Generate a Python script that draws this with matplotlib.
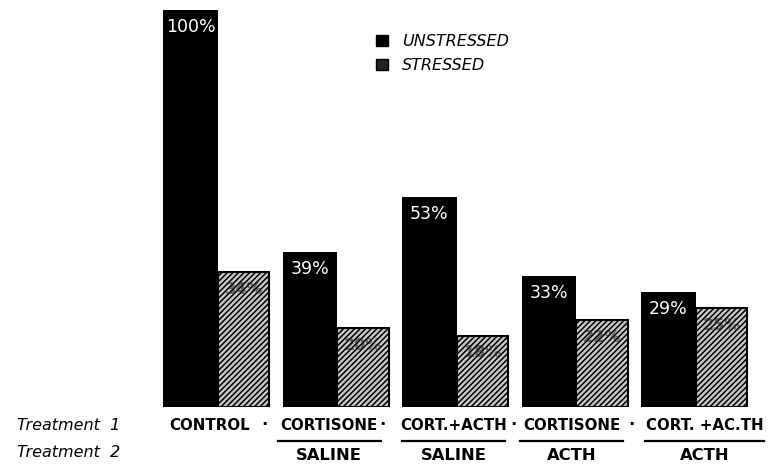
import matplotlib.pyplot as plt
import matplotlib.transforms as mtransforms
from matplotlib.lines import Line2D
from matplotlib.patches import Patch

plt.rcParams['hatch.linewidth'] = 1.1

# Data (percent)
treatment1 = ['CONTROL', 'CORTISONE', 'CORT.+ACTH', 'CORTISONE', 'CORT. +AC.TH']
treatment2 = ['', 'SALINE', 'SALINE', 'ACTH', 'ACTH']
unstressed = [100, 39, 53, 33, 29]
stressed = [34, 20, 18, 22, 25]

fig = plt.figure(figsize=(7.71, 4.65), dpi=100)
ax = fig.add_axes([150 / 771, 58 / 465, 621 / 771, 397 / 465])

x = list(range(len(treatment1)))
bw_u = 0.46
bw_s = 0.43

# Unstressed: solid black, stressed: hatched
ax.bar(x, unstressed, width=-bw_u, align='edge', color='black', edgecolor='black', linewidth=0)
ax.bar(x, stressed, width=bw_s, align='edge', color='#c8c8c8', edgecolor='black',
       hatch='//////', linewidth=1.5)

for i in x:
    ax.text(i - bw_u / 2, unstressed[i] - 2, f'{unstressed[i]}%', color='white',
            ha='center', va='top', fontsize=12.5)
    ax.text(i + bw_s / 2, stressed[i] - 2.5, f'{stressed[i]}%', color='#202020',
            ha='center', va='top', fontsize=11.5, fontweight='bold', alpha=0.6)

ax.set_xlim(-0.569, 4.628)
ax.set_ylim(0, 100)
ax.axis('off')

# Category labels under the bars
trans = mtransforms.blended_transform_factory(ax.transData, fig.transFigure)
label_x = [-0.07, -0.07, -0.03, -0.04, 0.07]
dot_x = [0.39, 1.38, 2.47, 3.46]
for i in x:
    cx = i + label_x[i]
    ax.text(cx, 1 - 425 / 465, treatment1[i], transform=trans, ha='center', va='center',
            fontsize=10.8, fontweight='bold', clip_on=False)
    if treatment2[i]:
        ax.text(cx, 1 - 455 / 465, treatment2[i], transform=trans,
                ha='center', va='center', fontsize=11.8, fontweight='bold', clip_on=False)
        half = 0.43 if i < 4 else 0.5
        fig.add_artist(Line2D([cx - half, cx + half], [1 - 441 / 465] * 2, transform=trans,
                              color='black', linewidth=1.6))
for d in dot_x:
    ax.text(d, 1 - 425 / 465, '·', transform=trans,
            ha='center', va='center', fontsize=12, fontweight='bold', clip_on=False)

fig.text(17 / 771, 1 - 425 / 465, 'Treatment  1', style='italic', fontsize=11.5, va='center')
fig.text(17 / 771, 1 - 452 / 465, 'Treatment  2', style='italic', fontsize=11.5, va='center')

# Legend
handles = [Patch(facecolor='black', edgecolor='black'),
           Patch(facecolor='#222222', edgecolor='black')]
leg = fig.legend(handles, ['UNSTRESSED', 'STRESSED'], loc='upper left',
                 bbox_to_anchor=(362 / 771, 1 - 20 / 465), frameon=False,
                 handlelength=0.7, handleheight=0.7, handletextpad=0.9,
                 labelspacing=0.55, prop={'style': 'italic', 'size': 11.5})

fig.savefig('out.png', dpi=100)
